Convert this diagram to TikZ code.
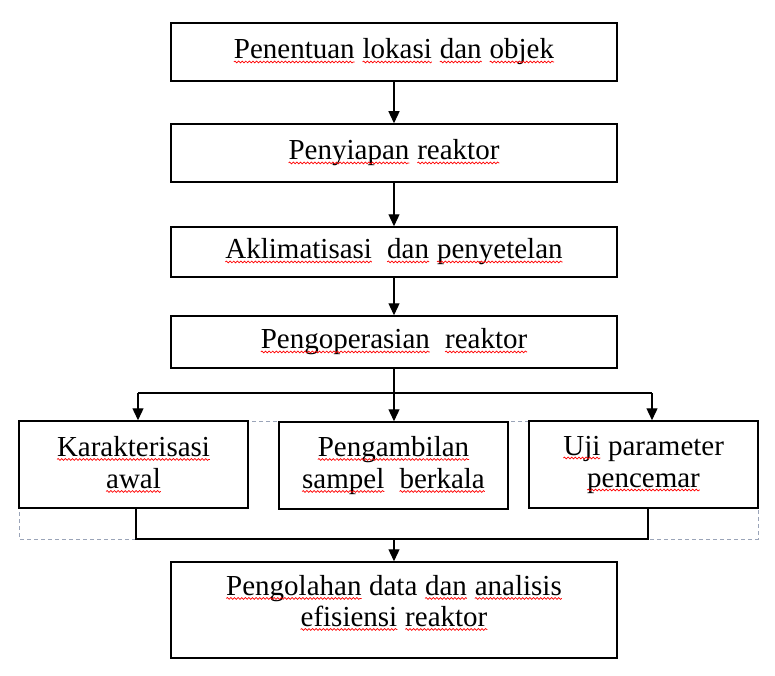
\documentclass[tikz,border=0pt]{standalone}
\usepackage{fontspec}
\setmainfont{Liberation Serif}
\usetikzlibrary{arrows.meta,decorations.pathmorphing}
\definecolor{dashcol}{HTML}{9AA4B8}
\newcommand\sq[1]{\tikz[baseline=(w.base)]{\node[draw=none,fill=none,inner sep=0pt,outer sep=0pt,minimum width=0pt,minimum height=0pt](w){#1};\draw[red,line width=0.7pt,decorate,decoration={snake,amplitude=0.9pt,segment length=3.6pt}]([yshift=-3pt]w.base west)--([yshift=-3pt]w.base east);}}
\tikzset{
  stepbox/.style={draw=black,line width=1.5pt,fill=white,inner sep=0pt,align=center,font=\fontsize{29}{32}\selectfont},
  arr/.style={line width=1.3pt,-{Triangle[length=12pt,width=11pt]}},
  conn/.style={line width=1.3pt},
  dashbox/.style={draw=dashcol,line width=1pt,dash pattern=on 4pt off 3pt}
}
\begin{document}
\begin{tikzpicture}[x=1pt,y=-1pt]
\useasboundingbox (0,0) rectangle (775,676);
% dashed frame drawn first
\coordinate (ll) at (136,539);
\coordinate (rr) at (648,539);
\draw[dashbox] (19,421) rectangle (758,539);
\node[stepbox,minimum width=446pt,minimum height=58pt] (b1) at (394,52) {\sq{Penentuan} \sq{lokasi} \sq{dan} \sq{objek}};
\node[stepbox,minimum width=446pt,minimum height=58pt] (b2) at (394,153) {\sq{Penyiapan} \sq{reaktor}};
\node[stepbox,minimum width=446pt,minimum height=50pt] (b3) at (394,252) {\sq{Aklimatisasi}\ \ \sq{dan} \sq{penyetelan}};
\node[stepbox,minimum width=446pt,minimum height=52pt] (b4) at (394,342) {\sq{Pengoperasian}\ \ \sq{reaktor}};
\node[stepbox,minimum width=229pt,minimum height=87pt] (kar) at (133.5,464.5) {\sq{Karakterisasi}\\\sq{awal}};
\node[stepbox,minimum width=229pt,minimum height=87pt] (amb) at (393.5,465.5) {\sq{Pengambilan}\\\sq{sampel}\ \ \sq{berkala}};
\node[stepbox,minimum width=229pt,minimum height=87pt] (uji) at (643.5,464.5) {\sq{Uji} parameter\\\sq{pencemar}};
\node[stepbox,minimum width=446pt,minimum height=96pt] (olah) at (394,610) {};
\node[inner sep=0pt,align=center,font=\fontsize{29}{31}\selectfont] (olahtxt) at (394,603) {\sq{Pengolahan} data \sq{dan} \sq{analisis}\\\sq{efisiensi} \sq{reaktor}};
% connectors
\draw[arr] (b1.south) -- (b2.north);
\draw[arr] (b2.south) -- (b3.north);
\draw[arr] (b3.south) -- (b4.north);
\coordinate (hl) at (138,393);
\coordinate (hr) at (652,393);
\draw[conn] (hl) -- (hr);
\draw[arr] (hl) -- (hl |- kar.north);
\draw[arr] (hr) -- (hr |- uji.north);
\draw[arr] (b4.south) -- (b4.south |- amb.north);
\draw[conn] (kar.south -| ll) -- (ll) -- (rr) -- (uji.south -| rr);
\draw[arr] (ll -| olah.north) -- (olah.north);
\end{tikzpicture}
\end{document}
